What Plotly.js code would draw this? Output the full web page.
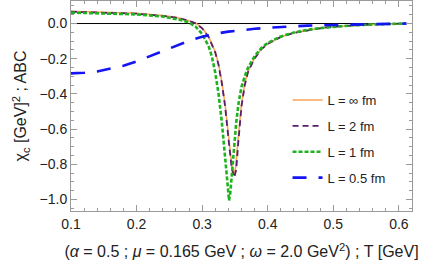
<!DOCTYPE html>
<html>
<head>
<meta charset="utf-8">
<script src="https://cdn.plot.ly/plotly-3.0.1.min.js"></script>
<style>html,body{margin:0;padding:0;background:#fff;}#chart{width:436px;height:265px;}</style>
</head>
<body>
<div id="chart"></div>
<script>
// L = infinity fm
const xInf = [0.10,0.15,0.20,0.24,0.26,0.28,0.29,0.30,0.31,0.32,0.325,0.33,0.335,0.34,0.345,0.348,0.351,0.355,0.36,0.365,0.37,0.38,0.39,0.40,0.42,0.44,0.46,0.48,0.50,0.53,0.56,0.60,0.61];
const yInf = [0.070,0.065,0.058,0.045,0.035,0.016,0.002,-0.025,-0.075,-0.16,-0.23,-0.33,-0.46,-0.63,-0.80,-0.855,-0.82,-0.65,-0.46,-0.34,-0.27,-0.195,-0.145,-0.115,-0.075,-0.052,-0.037,-0.026,-0.018,-0.010,-0.005,-0.001,0.0];
// L = 2 fm
const x2 = [0.10,0.15,0.20,0.24,0.26,0.28,0.29,0.30,0.31,0.32,0.325,0.33,0.335,0.34,0.345,0.349,0.352,0.355,0.36,0.365,0.37,0.38,0.39,0.40,0.42,0.44,0.46,0.48,0.50,0.53,0.56,0.60,0.61];
const y2 = [0.067,0.063,0.056,0.044,0.034,0.015,0.001,-0.027,-0.078,-0.165,-0.235,-0.34,-0.47,-0.65,-0.82,-0.875,-0.83,-0.68,-0.47,-0.35,-0.275,-0.198,-0.147,-0.116,-0.076,-0.053,-0.038,-0.027,-0.018,-0.010,-0.005,-0.001,0.0];
// L = 1 fm
const x1 = [0.10,0.15,0.20,0.24,0.26,0.27,0.28,0.29,0.30,0.31,0.315,0.32,0.325,0.33,0.335,0.339,0.341,0.343,0.347,0.352,0.356,0.36,0.365,0.37,0.38,0.39,0.40,0.42,0.44,0.46,0.48,0.50,0.53,0.56,0.60,0.61];
const y1 = [0.062,0.058,0.052,0.040,0.028,0.018,0.005,-0.018,-0.060,-0.13,-0.19,-0.28,-0.40,-0.56,-0.76,-0.95,-1.005,-0.96,-0.77,-0.56,-0.44,-0.36,-0.30,-0.25,-0.185,-0.14,-0.11,-0.073,-0.051,-0.036,-0.026,-0.018,-0.010,-0.005,-0.001,0.0];
// L = 0.5 fm
const x05 = [0.10,0.12,0.14,0.16,0.18,0.20,0.22,0.24,0.26,0.28,0.30,0.32,0.34,0.36,0.38,0.40,0.43,0.46,0.50,0.55,0.60,0.612];
const y05 = [-0.283,-0.280,-0.272,-0.258,-0.240,-0.215,-0.185,-0.155,-0.125,-0.098,-0.075,-0.058,-0.046,-0.037,-0.030,-0.024,-0.017,-0.012,-0.008,-0.004,-0.001,0.0];

const names = ['L = ∞ fm','L = 2 fm','L = 1 fm','L = 0.5 fm'];

const traces = [
  {x:xInf,y:yInf,name:names[0],mode:'lines',line:{color:'#F8A55A',width:1.6,dash:'solid'},legendgroup:'a'},
  {x:x2,y:y2,name:names[1],mode:'lines',line:{color:'#5A1E6E',width:1.8,dash:'6px,4px'},legendgroup:'b'},
  {x:x1,y:y1,name:names[2],mode:'lines',line:{color:'#1DB31D',width:2.6,dash:'4px,2px'},legendgroup:'c'},
  {x:x05,y:y05,name:names[3],mode:'lines',line:{color:'#1414F5',width:2.6,dash:'14px,12px'},legendgroup:'d'}
];

const FONT = 'Liberation Sans, Arial, sans-serif';
const axisCommon = {
  showline:true, linecolor:'#9a9a9a', linewidth:1, mirror:'ticks',
  ticks:'inside', ticklen:6, tickcolor:'#9a9a9a', tickwidth:1,
  showgrid:false, zeroline:false,
  tickfont:{family:FONT, size:14, color:'#222'}
};

const layout = {
  width:436, height:265,
  margin:{l:71, r:24, t:1, b:54},
  paper_bgcolor:'#fff', plot_bgcolor:'#fff',
  showlegend:true,
  legend:{x:0.635, y:0.60, xanchor:'left', yanchor:'top', bgcolor:'rgba(0,0,0,0)',
    font:{family:FONT, size:13, color:'#222'},
    traceorder:'grouped', tracegroupgap:6},
  xaxis:Object.assign({}, axisCommon, {
    range:[0.1,0.62], dtick:0.1, tick0:0.1, tickformat:'.1f',
    minor:{dtick:0.02, ticks:'inside', ticklen:3, tickcolor:'#9a9a9a'},
    title:{text:'(<i>α</i> = 0.5 ; <i>μ</i> = 0.165 GeV ; <i>ω</i> = 2.0 GeV<sup>2</sup>) ; T [GeV]',
      font:{family:FONT, size:16, color:'#222'}, standoff:15}
  }),
  yaxis:Object.assign({}, axisCommon, {
    range:[-1.065,0.128], dtick:0.2, tick0:0, tickformat:'.1f',
    minor:{dtick:0.05, ticks:'inside', ticklen:3, tickcolor:'#9a9a9a'},
    title:{text:'χ<sub>c</sub> [GeV]<sup>2</sup> ; ABC',
      font:{family:FONT, size:16, color:'#222'}, standoff:8}
  }),
  shapes:[{type:'line', xref:'paper', x0:0, x1:1, yref:'y', y0:0, y1:0, line:{color:'#000', width:1}, layer:'below'}]
};

Plotly.newPlot('chart', traces, layout, {displayModeBar:false, staticPlot:true});
</script>
</body>
</html>
